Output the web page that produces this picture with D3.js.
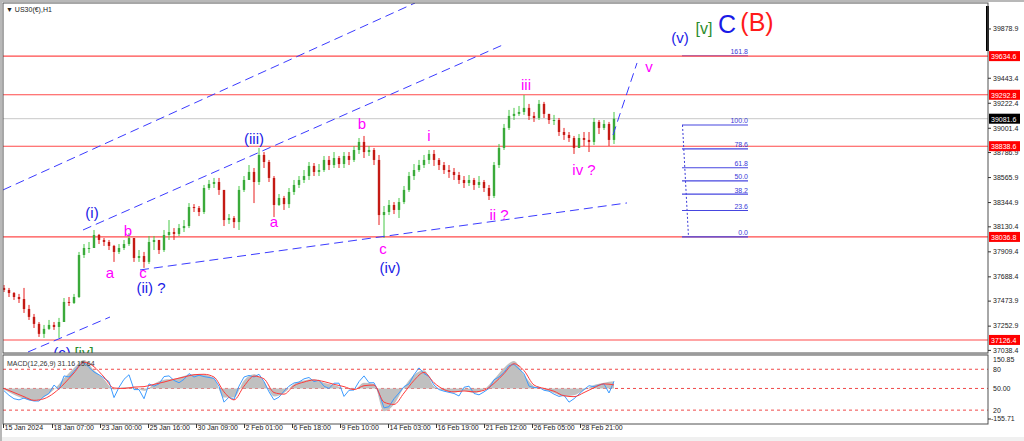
<!DOCTYPE html>
<html><head><meta charset="utf-8">
<script src="https://cdn.jsdelivr.net/npm/d3@7"></script>
<style>
html,body{margin:0;padding:0;background:#fff;}
svg{display:block;}
text{font-family:"Liberation Sans",Arial,sans-serif;}
</style></head><body>
<svg id="c" width="1024" height="441"></svg>
<script>
// ---------- DATA ----------
const firstOpen = 37586;
const closes = [37568,37541,37506,37488,37400,37330,37268,37180,37224,37259,
 37241,37285,37462,37453,37506,37877,37939,37939,38054,38010,
 37992,37957,37904,37939,37974,38027,37851,37868,37816,37992,
 38010,37921,38054,38080,38063,38115,38133,38301,38292,38257,
 38469,38505,38522,38452,38186,38204,38168,38452,38540,38611,
 38522,38761,38699,38558,38319,38381,38327,38434,38496,38540,
 38575,38664,38611,38628,38717,38672,38734,38681,38752,38717,
 38805,38876,38787,38805,38717,38230,38257,38319,38275,38345,
 38452,38575,38628,38672,38717,38770,38717,38672,38628,38611,
 38584,38540,38513,38540,38496,38522,38469,38399,38672,38823,
 39000,39106,39124,39141,39177,39106,39088,39212,39124,39070,
 39070,38964,38938,38911,38823,38911,38894,38876,39053,39000,
 39035,38894,39082];
const highs = [37612,37586,37550,37533,37586,37436,37356,37285,37259,37303,
 37285,37321,37497,37506,37533,37904,37974,37992,38098,38063,
 38027,38010,37966,37974,38010,38071,37939,37921,37904,38045,
 38045,38010,38098,38186,38115,38151,38186,38336,38327,38310,
 38496,38540,38558,38558,38452,38239,38221,38487,38575,38672,
 38646,38823,38787,38717,38575,38416,38399,38469,38540,38575,
 38628,38699,38690,38681,38752,38752,38787,38752,38787,38787,
 38840,38911,38929,38840,38823,38761,38310,38363,38345,38381,
 38487,38611,38681,38717,38761,38805,38805,38734,38699,38672,
 38646,38611,38575,38584,38558,38575,38540,38496,38699,38858,
 39035,39159,39177,39194,39291,39212,39141,39247,39230,39124,
 39115,39088,39000,38964,38929,38946,38964,38964,39088,39070,
 39070,39053,39141];
const lows = [37550,37506,37480,37453,37365,37303,37232,37153,37144,37215,
 37215,37144,37285,37427,37444,37497,37851,37895,37957,37974,
 37957,37921,37816,37886,37921,37957,37816,37816,37763,37798,
 37921,37886,37904,38010,38010,38045,38080,38115,38257,38221,
 38239,38452,38469,38408,38133,38151,38115,38098,38434,38540,
 38336,38496,38646,38522,38212,38310,38275,38292,38408,38469,
 38513,38540,38575,38575,38611,38628,38646,38646,38646,38672,
 38699,38770,38734,38752,38672,38142,38027,38230,38239,38204,
 38327,38434,38540,38611,38646,38681,38664,38628,38593,38558,
 38540,38505,38469,38487,38452,38469,38434,38363,38381,38646,
 38805,38982,39070,39106,39115,39070,39053,39070,39088,39035,
 39026,38929,38894,38876,38770,38840,38840,38787,38849,38946,
 38982,38840,38858];

const priceTicks = [39878.9,39443.4,39222.4,39001.4,38786.9,38565.9,38344.9,38130.4,37909.4,37688.4,37473.9,37252.9,37038.4];
const keyLevels = [39634.6,39292.8,38838.6,38036.8,37126.4];
const bidPrice = 39081.6;

const timeLabels = ["15 Jan 2024","18 Jan 07:00","23 Jan 00:00","25 Jan 16:00","30 Jan 09:00","2 Feb 01:00","6 Feb 18:00","9 Feb 10:00","14 Feb 03:00","16 Feb 19:00","21 Feb 12:00","26 Feb 05:00","28 Feb 21:00"];
const timeLabelIdx = [-0.2,9.6,19.2,28.8,38.4,48,57.6,67.2,76.8,86.4,96,105.6,115.2];

// MACD-panel series
const macdBlue = [-10,-30,-45,-50,-42,-50,-55,-55,-35,-22,
 15,-5,55,50,75,100,115,92,72,60,
 45,30,-40,5,40,60,-5,-5,-45,20,
 10,20,52,55,35,25,40,65,50,58,
 52,48,44,10,-60,-38,-48,10,50,57,
 50,62,30,-15,-50,-38,-12,10,24,28,
 42,48,30,36,10,0,23,23,-35,-8,
 -7,30,55,25,25,-20,-85,-80,-45,-20,
 8,20,60,90,65,52,15,-5,-12,-17,
 -22,-33,5,10,-22,-28,-15,0,38,50,
 70,100,105,85,65,10,4,5,-8,-12,
 -25,-35,-30,-60,-45,-25,-5,12,8,15,
 20,-20,31];
const macdSignal = [0,-18,-36,-52,-45,-20,20,68,115,95,
 50,2,0,6,8,18,28,40,50,60,
 62,50,-15,-50,10,54,42,-18,-25,12,
 28,37,30,18,8,-5,12,15,-60,-70,
 -20,35,70,25,-5,-15,-11,-15,-8,22,
 65,108,78,15,0,-12,-32,-36,-18,3,
 20,15.64];
const macdHist = [-5,-28,-45,-55,-38,-5,45,90,125,80,
 40,-5,5,5,-10,20,38,42,55,62,
 60,45,-40,-40,35,62,30,-35,-20,20,
 35,40,25,15,0,-5,25,20,-100,-70,
 5,60,80,10,-10,-18,-10,-20,-5,40,
 90,120,60,10,-5,-20,-35,-30,-8,15,
 25,31.16];
const macdLevels = [84,0,-95];
const macdLevelLabels = ["80","50.00","20"];

// Fibonacci retracement tool
const fibLow = 38036.8, fibHigh = 39026;
const fibLevels = [0,23.6,38.2,50,61.8,78.6,100];
const fibExt = 161.8;
const fibIdx = [135.6,148.8];

// Trend / channel lines: [idx0, price0, idx1, price1]
const channelLines = [
  [-0.2,38452,82.2,40104],
  [15.8,38098,100.2,39742],
  [4.8,37020,21.2,37329],
  [27.2,37745,124.6,38337],
  [121.8,38938,126.6,39574]
];

// Wave labels: [text, idx, price, colour, size]
const BL="#1a1ae6", MG="#ff00ff", GR="#2c8c2c", RD="#ff1a1a";
const waveLabels = [
  ["(v)",135.2,39751,BL,15],
  ["[v]",140,39830,GR,16],
  ["C",144.6,39839,BL,25],
  ["(B)",150.6,39857,RD,25],
  ["v",129,39494,MG,15],
  ["iii",104.4,39335,MG,15],
  ["iv ?",116,38584,MG,15],
  ["i",85,38885,MG,15],
  ["b",71.6,38991,MG,15],
  ["ii ?",99,38186,MG,15],
  ["c",75.8,37886,MG,15],
  ["(iv)",77.2,37718,BL,15],
  ["(iii)",50,38858,BL,15],
  ["a",54,38125,MG,15],
  ["(i)",17.6,38204,BL,15],
  ["b",24.8,38045,MG,15],
  ["a",21.2,37674,MG,15],
  ["c",27.8,37674,MG,15],
  ["(ii) ?",29.4,37541,BL,15],
  ["(c)",11.6,36967,BL,15],
  ["[iv]",16,36967,GR,15]
];

// ---------- LAYOUT ----------
const L=3, R=988, T=3, MB=353, MT=355, BB=424;
const svg=d3.select("#c");
const x=d3.scaleLinear().domain([0,122]).range([4,614]);
const y=d3.scaleLinear().domain([37011,40104]).range([MB,T]);
const ym=d3.scaleLinear().domain([-155.71,150.85]).range([BB,354]);

svg.append("rect").attr("width",1024).attr("height",441).attr("fill","#f0f0f0");
svg.append("rect").attr("x",2).attr("y",2).attr("width",1022).attr("height",435).attr("fill","#fff");
svg.append("rect").attr("x",0).attr("y",0).attr("width",1024).attr("height",2).attr("fill","#b8b8b8");
svg.append("rect").attr("x",0).attr("y",0).attr("width",2).attr("height",441).attr("fill","#b8b8b8");

const defs=svg.append("defs");
defs.append("clipPath").attr("id","cm").append("rect").attr("x",L).attr("y",T).attr("width",R-L).attr("height",MB-T);
defs.append("clipPath").attr("id","cd").append("rect").attr("x",L).attr("y",MT).attr("width",R-L).attr("height",BB-MT);

const main=svg.append("g").attr("clip-path","url(#cm)");

const fx0=x(fibIdx[0]), fx1=x(fibIdx[1]);
const fibP = f => fibLow + (fibHigh-fibLow)*f/100;
main.append("line").attr("x1",fx0).attr("x2",fx1).attr("y1",y(fibP(fibExt))).attr("y2",y(fibP(fibExt)))
  .attr("stroke","#4646e0").attr("stroke-width",1);

main.append("line").attr("x1",L).attr("x2",R).attr("y1",y(bidPrice)).attr("y2",y(bidPrice)).attr("stroke","#c8c8c8").attr("stroke-width",1);
main.selectAll("line.kl").data(keyLevels).join("line").attr("class","kl")
  .attr("x1",L).attr("x2",R).attr("y1",d=>y(d)).attr("y2",d=>y(d))
  .attr("stroke","#ff4a4a").attr("stroke-width",1.1);

// candles
const candles = closes.map((c,i)=>{
  const o = i===0?firstOpen:closes[i-1];
  return {i,o,c,h:Math.max(highs[i],o,c),l:Math.min(lows[i],o,c)};
});
const UP="#46c846", DN="#e81c1c";
const cg=main.append("g");
cg.selectAll("line").data(candles).join("line")
  .attr("x1",d=>x(d.i)).attr("x2",d=>x(d.i)).attr("y1",d=>y(d.h)).attr("y2",d=>y(d.l))
  .attr("stroke",d=>d.c>=d.o?UP:DN).attr("stroke-width",1);
cg.selectAll("rect").data(candles).join("rect")
  .attr("x",d=>x(d.i)-1.2).attr("width",2.4)
  .attr("y",d=>y(Math.max(d.o,d.c))).attr("height",d=>Math.max(1,Math.abs(y(d.o)-y(d.c))))
  .attr("fill",d=>d.c>=d.o?"#3aaa3a":"#c41a14");

main.selectAll("line.ch").data(channelLines).join("line").attr("class","ch")
  .attr("x1",d=>x(d[0])).attr("y1",d=>y(d[1])).attr("x2",d=>x(d[2])).attr("y2",d=>y(d[3]))
  .attr("stroke","#3b3bff").attr("stroke-width",1).attr("stroke-dasharray","9,5");

main.append("line").attr("x1",fx0+0.5).attr("y1",y(fibP(100))).attr("x2",fx0+6.5).attr("y2",y(fibP(0)))
  .attr("stroke","#3a3ad8").attr("stroke-width",1).attr("stroke-dasharray","2,2");
main.selectAll("line.fb").data(fibLevels).join("line").attr("class","fb")
  .attr("x1",fx0).attr("x2",fx1).attr("y1",d=>y(fibP(d))).attr("y2",d=>y(fibP(d)))
  .attr("stroke","#4646e0").attr("stroke-width",1.2);
main.selectAll("text.fb").data(fibLevels.concat([fibExt])).join("text").attr("class","fb")
  .attr("x",fx1).attr("y",d=>y(fibP(d))-1.5).attr("text-anchor","end")
  .attr("font-size",7).attr("fill","#3a3ad8").text(d=>d.toFixed(1));

main.selectAll("text.wv").data(waveLabels).join("text").attr("class","wv")
  .attr("x",d=>x(d[1])).attr("y",d=>y(d[2])).attr("text-anchor","middle")
  .attr("font-size",d=>d[4]).attr("fill",d=>d[3]).text(d=>d[0]);

svg.append("text").attr("x",6).attr("y",12).attr("font-size",7).attr("fill","#222").text("\u25BC  US30(\u20AC),H1");
svg.append("rect").attr("x",986).attr("y",6).attr("width",3).attr("height",45).attr("fill","#000");

// ---------- MACD ----------
svg.append("rect").attr("x",L).attr("y",MT).attr("width",R-L).attr("height",BB-MT).attr("fill","#fff");
const md=svg.append("g").attr("clip-path","url(#cd)");
md.selectAll("line").data(macdLevels).join("line")
  .attr("x1",L).attr("x2",R).attr("y1",d=>ym(d)).attr("y2",d=>ym(d))
  .attr("stroke","#f04848").attr("stroke-width",1).attr("stroke-dasharray","3,3");
md.append("path").datum(macdHist)
  .attr("d",d3.area().x((d,k)=>x(2*k)).y0(ym(0)).y1(d=>ym(d)).curve(d3.curveMonotoneX))
  .attr("fill","#c0c0c0");
md.append("path").datum(macdBlue)
  .attr("d",d3.line().x((d,i)=>x(i)).y(d=>ym(d)))
  .attr("fill","none").attr("stroke","#3d9cff").attr("stroke-width",1);
md.append("path").datum(macdSignal)
  .attr("d",d3.line().x((d,k)=>x(2*k)).y(d=>ym(d)).curve(d3.curveMonotoneX))
  .attr("fill","none").attr("stroke","#ff3b3b").attr("stroke-width",1);
svg.append("text").attr("x",7).attr("y",366).attr("font-size",7).attr("fill","#333")
  .text("MACD(12,26,9) "+macdHist[macdHist.length-1].toFixed(2)+" "+macdSignal[macdSignal.length-1].toFixed(2));

svg.append("rect").attr("x",L).attr("y",T).attr("width",R-L).attr("height",MB-T).attr("fill","none").attr("stroke","#505050").attr("stroke-width",1);
svg.append("rect").attr("x",L).attr("y",MT).attr("width",R-L).attr("height",BB-MT).attr("fill","none").attr("stroke","#505050").attr("stroke-width",1);
svg.append("line").attr("x1",L).attr("x2",R).attr("y1",MB+1).attr("y2",MB+1).attr("stroke","#909090");

const pa=svg.append("g").attr("transform",`translate(${R},0)`)
  .call(d3.axisRight(y).tickValues(priceTicks).tickSize(3).tickSizeOuter(0).tickPadding(2).tickFormat(d3.format(".1f")));
pa.select(".domain").remove();
pa.selectAll("text").attr("font-size",7).attr("fill","#222").attr("font-family","Liberation Sans, Arial, sans-serif");
pa.selectAll("line").attr("stroke","#333");

const kb=svg.append("g");
kb.selectAll("rect").data(keyLevels).join("rect").attr("x",989).attr("y",d=>y(d)-5).attr("width",31).attr("height",10).attr("fill","#ff0000");
kb.selectAll("text").data(keyLevels).join("text").attr("x",991).attr("y",d=>y(d)+3).attr("font-size",7).attr("fill","#fff").text(d=>d.toFixed(1));
svg.append("rect").attr("x",989).attr("y",y(bidPrice)-5).attr("width",31).attr("height",10).attr("fill","#000");
svg.append("text").attr("x",991).attr("y",y(bidPrice)+3).attr("font-size",7).attr("fill","#fff").text(bidPrice.toFixed(1));

const mlab=svg.append("g").attr("font-size",7).attr("fill","#222");
mlab.append("text").attr("x",993).attr("y",ym(150.85)+8).text("150.85");
mlab.selectAll("text.lv").data(macdLevels).join("text").attr("class","lv").attr("x",993).attr("y",d=>ym(d)+2.5).text((d,i)=>macdLevelLabels[i]);
mlab.append("text").attr("x",991).attr("y",ym(-155.71)-3).text("-155.71");
svg.append("line").attr("x1",R).attr("x2",R+3).attr("y1",ym(-155.71)-5).attr("y2",ym(-155.71)-5).attr("stroke","#333");

const ta=svg.append("g").attr("transform",`translate(0,${BB})`)
  .call(d3.axisBottom(x).tickValues(timeLabelIdx).tickSize(4).tickSizeOuter(0).tickFormat((d,i)=>timeLabels[i]));
ta.select(".domain").remove();
ta.selectAll("text").attr("font-size",7).attr("fill","#222").attr("text-anchor","start").attr("dx",1).attr("dy",-1)
  .attr("font-family","Liberation Sans, Arial, sans-serif");
ta.selectAll("line").attr("stroke","#333");
</script>
</body></html>
